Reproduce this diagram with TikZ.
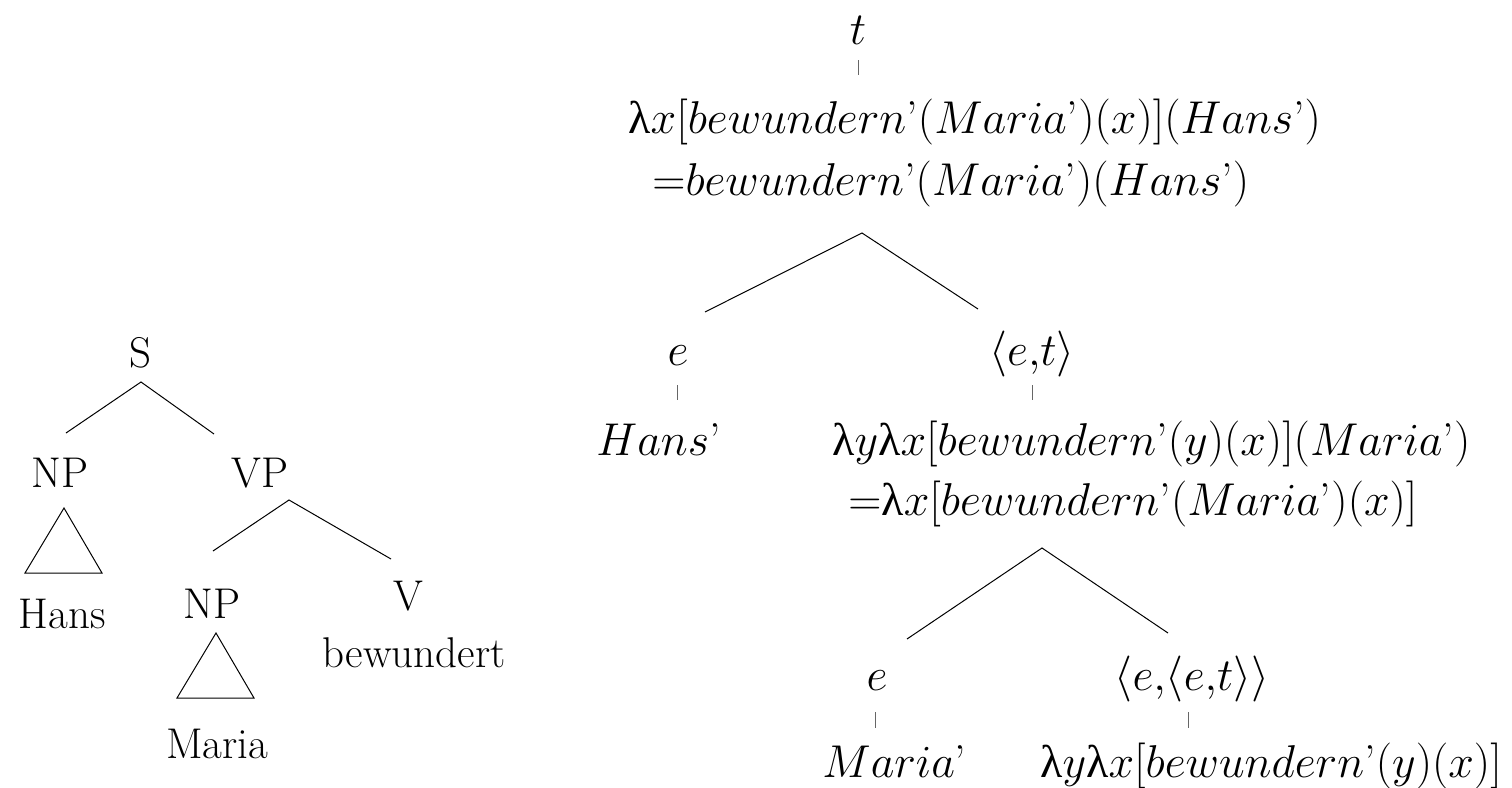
\RequirePackage{fix-cm}
\documentclass[tikz,border=0pt]{standalone}
\usepackage[no-math]{fontspec}
\newfontfamily\grk{Liberation Serif}
\newcommand{\lam}{\mbox{\grk λ}}
\newcommand{\ap}{\mbox{\normalfont ’}}
\tikzset{
  lab/.style={inner sep=0pt, anchor=base, font=\fontsize{21.5}{26}\selectfont},
  mth/.style={inner sep=0pt, anchor=base west, font=\fontsize{23}{28}\selectfont},
  mthc/.style={mth, anchor=base},
  edge/.style={line width=0.5pt},
  tick/.style={line width=0.5pt, black!60}
}
\begin{document}
\begin{tikzpicture}[x=0.5pt,y=-0.5pt]
\useasboundingbox (0,0) rectangle (1512,788);
% ---------- left tree ----------
\node[lab] (S) at (140,367) {S};
\node[lab] (NPa) at (60,487) {NP};
\node[lab] (VP) at (260,487) {VP};
\node[lab] (Hans) at (62,628) {Hans};
\node[lab] (NPb) at (212,618) {NP};
\node[lab] (V) at (408,610) {V};
\node[lab] (bew) at (414,667) {bewundert};
\node[lab] (Maria) at (217,758) {Maria};
\coordinate (s0) at (141,382);
\coordinate (s1) at (66,433);
\coordinate (s2) at (214,434);
\draw[edge] (s1) -- (s0) -- (s2);
\coordinate (vp0) at (289,500);
\coordinate (vp1) at (213,551);
\coordinate (vp2) at (391,559);
\draw[edge] (vp1) -- (vp0) -- (vp2);
\draw[edge] (64,508) -- (25,573) -- (102,573) -- cycle;
\draw[edge] (216,633) -- (177,698) -- (254,698) -- cycle;
% ---------- right tree ----------
\node[mthc] (t) at (858,44) {$t$};
\coordinate (t0) at (858,60);
\coordinate (t1) at (858,75);
\draw[tick] (t0) -- (t1);
\node[mth] (L1) at (628,133) {$\lam x[bewundern\ap(Maria\ap)(x)](Hans\ap)$};
\node[mth] (L2) at (652,195) {${=}bewundern\ap(Maria\ap)(Hans\ap)$};
\coordinate (b0) at (862,233);
\coordinate (b1) at (705,312);
\coordinate (b2) at (978,309);
\draw[edge] (b1) -- (b0) -- (b2);
\node[mthc] (e1) at (678,365) {$e$};
\node[mthc] (et) at (1032,365) {$\langle e{,}t\rangle$};
\coordinate (e1a) at (677,385);
\coordinate (e1b) at (677,400);
\draw[tick] (e1a) -- (e1b);
\coordinate (eta) at (1032,385);
\coordinate (etb) at (1032,400);
\draw[tick] (eta) -- (etb);
\node[mth] (Hp) at (596,455) {$Hans\ap$};
\node[mth] (L3) at (832,455) {$\lam y\lam x[bewundern\ap(y)(x)](Maria\ap)$};
\node[mth] (L4) at (848,515) {${=}\lam x[bewundern\ap(Maria\ap)(x)]$};
\coordinate (c0) at (1042,548);
\coordinate (c1) at (907,639);
\coordinate (c2) at (1168,633);
\draw[edge] (c1) -- (c0) -- (c2);
\node[mthc] (e2) at (877,690) {$e$};
\node[mthc] (eet) at (1192,690) {$\langle e{,}\langle e{,}t\rangle\rangle$};
\coordinate (e2a) at (875,712);
\coordinate (e2b) at (875,728);
\draw[tick] (e2a) -- (e2b);
\coordinate (eeta) at (1188,712);
\coordinate (eetb) at (1188,728);
\draw[tick] (eeta) -- (eetb);
\node[mth] (Mp) at (822,777) {$Maria\ap$};
\node[mth] (L5) at (1040,777) {$\lam y\lam x[bewundern\ap(y)(x)]$};
\end{tikzpicture}
\end{document}
